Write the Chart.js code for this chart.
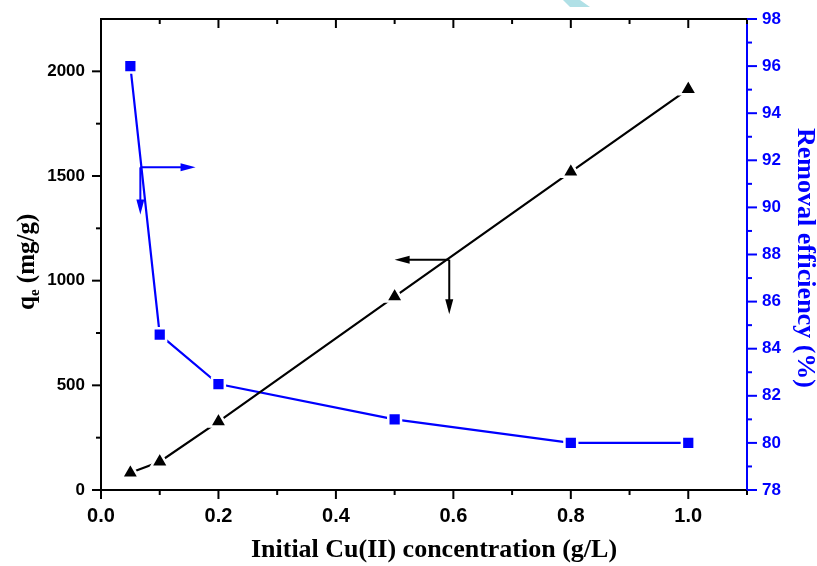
<!DOCTYPE html>
<html>
<head>
<script src="https://cdn.jsdelivr.net/npm/chart.js"></script>
<style>
  body { margin: 0; background: #ffffff; }
  #wrap { width: 817px; height: 566px; }
</style>
</head>
<body>
<div id="wrap"><canvas id="myChart" width="817" height="566"></canvas></div>
<script>
  // data
  var conc = [0.05, 0.1, 0.2, 0.5, 0.8, 1.0];
  var qe = [82, 135, 327, 924, 1520, 1915];
  var removal = [96, 84.6, 82.5, 81, 80, 80];

  // axes
  var xTicks = [0, 0.2, 0.4, 0.6, 0.8, 1.0];
  var xMinor = [0.1, 0.3, 0.5, 0.7, 0.9, 1.1];
  var qeTicks = [0, 500, 1000, 1500, 2000];
  var qeMinor = [250, 750, 1250, 1750];
  var removalTicks = [78, 80, 82, 84, 86, 88, 90, 92, 94, 96, 98];
  var removalMinor = [79, 81, 83, 85, 87, 89, 91, 93, 95, 97];

  // the two "which axis" arrows (corner point, then tip)
  var qeArrow = { x: 0.593, y: 1100, toX: 0.50, toY: 840 };
  var removalArrow = { x: 0.067, y: 91.7, toX: 0.161, toY: 89.7 };

  var BLUE = '#0000ff';

  function line(ctx, x1, y1, x2, y2) {
    ctx.beginPath();
    ctx.moveTo(x1, y1);
    ctx.lineTo(x2, y2);
    ctx.stroke();
  }

  function arrowHead(ctx, x, y, dir) {
    // dir: 'left', 'right', 'down'
    var L = 15, W = 4;
    ctx.beginPath();
    if (dir == 'left') { ctx.moveTo(x, y); ctx.lineTo(x + L, y - W); ctx.lineTo(x + L, y + W); }
    if (dir == 'right') { ctx.moveTo(x, y); ctx.lineTo(x - L, y - W); ctx.lineTo(x - L, y + W); }
    if (dir == 'down') { ctx.moveTo(x, y); ctx.lineTo(x - W, y - L); ctx.lineTo(x + W, y - L); }
    ctx.closePath();
    ctx.fill();
  }

  var extras = {
    id: 'extras',
    afterDraw: function (chart) {
      var ctx = chart.ctx, a = chart.chartArea;
      var xs = chart.scales.x, ys = chart.scales.y, y2 = chart.scales.y2;
      ctx.save();

      // faint watermark piece at the top
      ctx.fillStyle = '#b0e0e6';
      ctx.beginPath();
      ctx.moveTo(563, 0); ctx.lineTo(580, 0); ctx.lineTo(590, 7); ctx.lineTo(570, 7);
      ctx.closePath();
      ctx.fill();

      // top frame + ticks
      ctx.strokeStyle = '#000';
      ctx.lineWidth = 2;
      line(ctx, a.left - 1, a.top, a.right, a.top);
      xTicks.forEach(function (v) {
        var px = xs.getPixelForValue(v);
        line(ctx, px, a.bottom, px, a.bottom + 9);
        line(ctx, px, a.top, px, a.top + 9);
      });
      xMinor.forEach(function (v) {
        var px = xs.getPixelForValue(v);
        line(ctx, px, a.bottom, px, a.bottom + 5);
        line(ctx, px, a.top, px, a.top + 5);
      });
      qeTicks.forEach(function (v) {
        var py = ys.getPixelForValue(v);
        line(ctx, a.left - 9, py, a.left, py);
      });
      qeMinor.forEach(function (v) {
        var py = ys.getPixelForValue(v);
        line(ctx, a.left - 5, py, a.left, py);
      });
      ctx.strokeStyle = BLUE;
      removalTicks.forEach(function (v) {
        var py = y2.getPixelForValue(v);
        line(ctx, a.right, py, a.right + 10, py);
      });
      removalMinor.forEach(function (v) {
        var py = y2.getPixelForValue(v);
        line(ctx, a.right, py, a.right + 5, py);
      });

      // arrows
      ctx.lineWidth = 2;
      ctx.strokeStyle = '#000'; ctx.fillStyle = '#000';
      var jx = xs.getPixelForValue(qeArrow.x), jy = ys.getPixelForValue(qeArrow.y);
      var tx = xs.getPixelForValue(qeArrow.toX), ty = ys.getPixelForValue(qeArrow.toY);
      line(ctx, jx, jy, tx + 8, jy);
      line(ctx, jx, jy, jx, ty - 8);
      arrowHead(ctx, tx, jy, 'left');
      arrowHead(ctx, jx, ty, 'down');

      ctx.strokeStyle = BLUE; ctx.fillStyle = BLUE;
      jx = xs.getPixelForValue(removalArrow.x); jy = y2.getPixelForValue(removalArrow.y);
      tx = xs.getPixelForValue(removalArrow.toX); ty = y2.getPixelForValue(removalArrow.toY);
      line(ctx, jx, jy, tx - 8, jy);
      line(ctx, jx, jy, jx, ty - 8);
      arrowHead(ctx, tx, jy, 'right');
      arrowHead(ctx, jx, ty, 'down');

      // axis titles
      var serif = '"Liberation Serif", "Times New Roman", serif';
      ctx.fillStyle = '#000';
      ctx.font = 'bold 26px ' + serif;
      ctx.textAlign = 'center';
      ctx.textBaseline = 'alphabetic';
      ctx.fillText('Initial Cu(II) concentration (g/L)', 434, 557);

      // q_e (mg/g), rotated
      ctx.save();
      ctx.translate(34, 310);
      ctx.rotate(-Math.PI / 2);
      ctx.textAlign = 'left';
      ctx.font = 'bold 25px ' + serif;
      ctx.fillText('q', 0, 0);
      var w = ctx.measureText('q').width;
      ctx.font = 'bold 15px ' + serif;
      ctx.fillText('e', w, 5);
      w += ctx.measureText('e').width;
      ctx.font = 'bold 25px ' + serif;
      ctx.fillText(' (mg/g)', w, 0);
      ctx.restore();

      // right title
      ctx.save();
      ctx.translate(798, 258);
      ctx.rotate(Math.PI / 2);
      ctx.fillStyle = BLUE;
      ctx.textAlign = 'center';
      ctx.font = 'bold 26px ' + serif;
      ctx.fillText('Removal efficiency (%)', 0, 0);
      ctx.restore();

      ctx.restore();
    }
  };

  var tickFont = { family: '"Liberation Sans", Arial, sans-serif', weight: 'bold', size: 17 };

  function noPad(s) {
    s.paddingTop = 0; s.paddingBottom = 0; s.paddingLeft = 0; s.paddingRight = 0;
  }

  var data = {
    datasets: [{
      label: 'qe',
      data: conc.map(function (c, i) { return { x: c, y: qe[i] }; }),
      yAxisID: 'y',
      borderColor: '#000',
      backgroundColor: '#000',
      borderWidth: 2.2,
      pointStyle: 'triangle',
      pointRadius: 10,
      pointBorderColor: '#fff',
      pointBorderWidth: 2.5,
      pointBackgroundColor: '#000',
      tension: 0
    }, {
      label: 'Removal efficiency',
      data: conc.map(function (c, i) { return { x: c, y: removal[i] }; }),
      yAxisID: 'y2',
      borderColor: BLUE,
      backgroundColor: BLUE,
      borderWidth: 2.2,
      pointStyle: 'rect',
      pointRadius: 9,
      pointBorderColor: '#fff',
      pointBorderWidth: 2.5,
      pointBackgroundColor: BLUE,
      tension: 0
    }]
  };

  var config = {
    type: 'line',
    data: data,
    options: {
      responsive: false,
      animation: false,
      layout: { padding: { top: 19, left: 0, right: 0, bottom: 0 } },
      plugins: { legend: { display: false }, tooltip: { enabled: false } },
      scales: {
        x: {
          type: 'linear', position: 'bottom', min: 0, max: 1.1,
          afterBuildTicks: function (s) { s.ticks = xTicks.map(function (v) { return { value: v }; }); },
          afterFit: function (s) { s.height = 76; noPad(s); },
          grid: { display: false },
          border: { display: true, color: '#000', width: 2 },
          ticks: {
            color: '#000', padding: 6, maxRotation: 0,
            font: { family: tickFont.family, weight: 'bold', size: 20 },
            callback: function (v) { return v.toFixed(1); }
          }
        },
        y: {
          type: 'linear', position: 'left', min: 0, max: 2250,
          afterBuildTicks: function (s) { s.ticks = qeTicks.map(function (v) { return { value: v }; }); },
          afterFit: function (s) { s.width = 101; noPad(s); },
          grid: { display: false },
          border: { display: true, color: '#000', width: 2 },
          ticks: { color: '#000', padding: 8, font: tickFont, callback: function (v) { return String(v); } }
        },
        y2: {
          type: 'linear', position: 'right', min: 78, max: 98,
          afterBuildTicks: function (s) { s.ticks = removalTicks.map(function (v) { return { value: v }; }); },
          afterFit: function (s) { s.width = 70; noPad(s); },
          grid: { display: false },
          border: { display: true, color: BLUE, width: 2 },
          ticks: { color: BLUE, padding: 7, font: tickFont, callback: function (v) { return String(v); } }
        }
      }
    },
    plugins: [extras]
  };

  var myChart = new Chart(document.getElementById('myChart'), config);
</script>
</body>
</html>
